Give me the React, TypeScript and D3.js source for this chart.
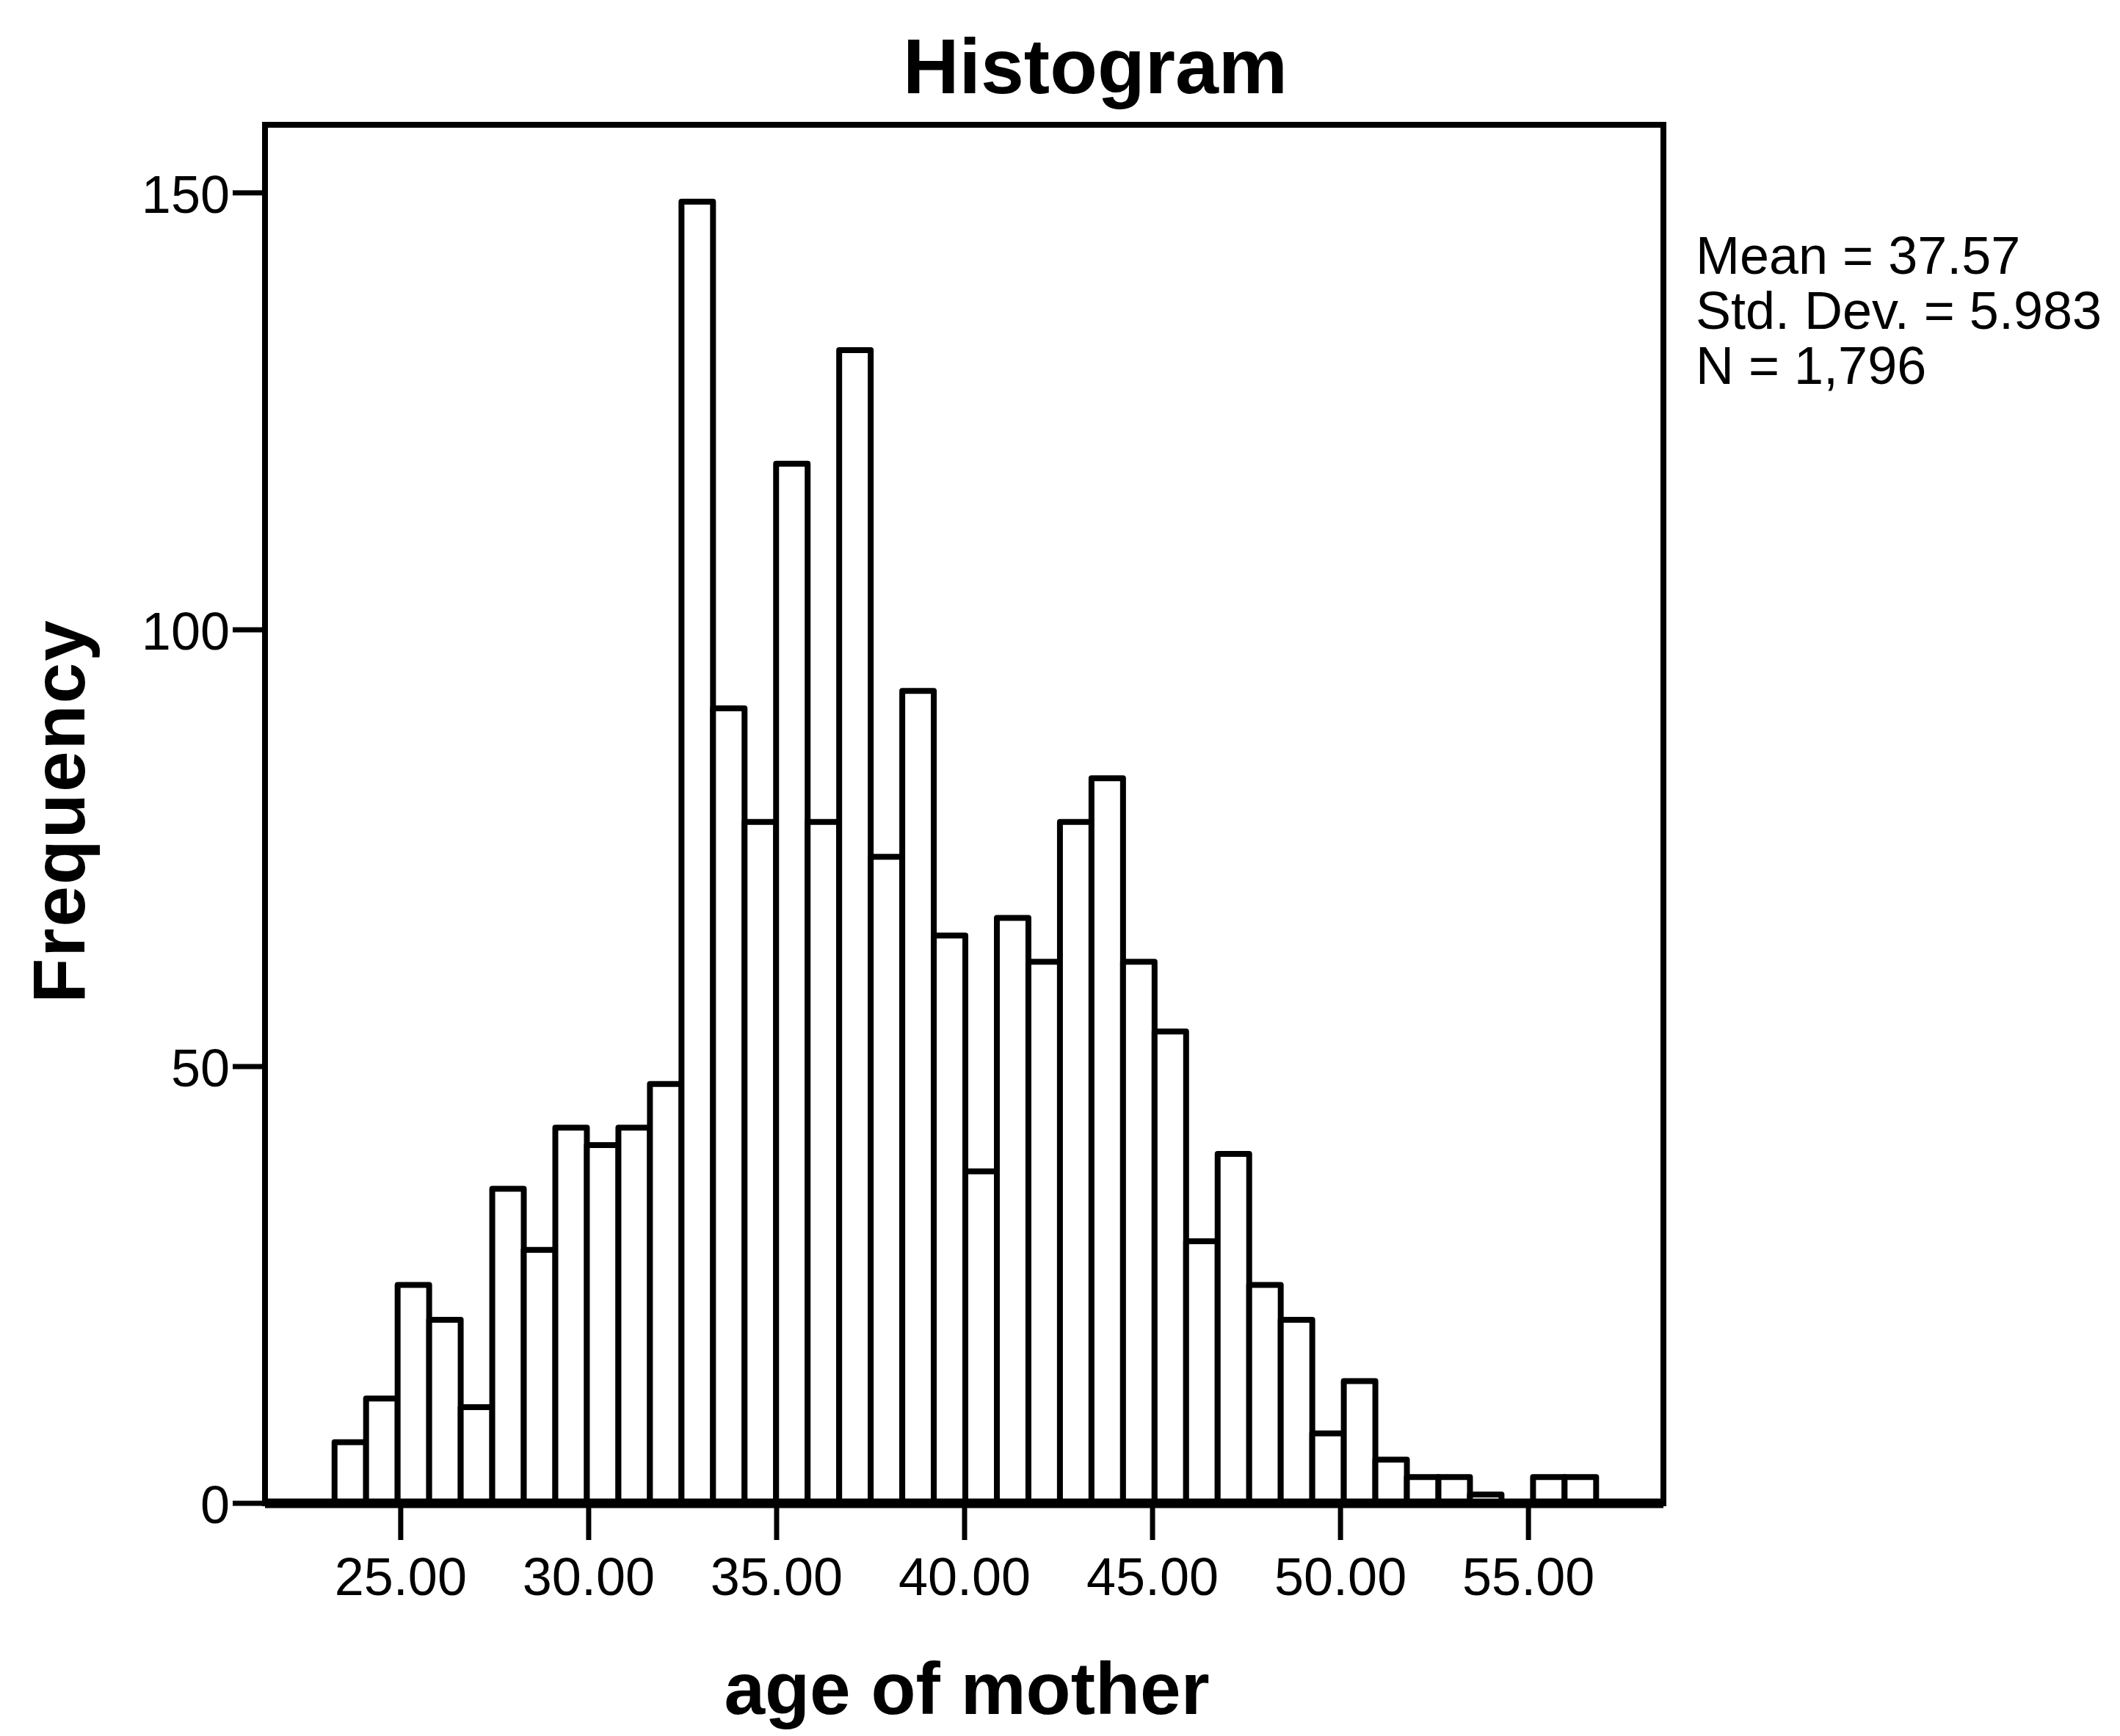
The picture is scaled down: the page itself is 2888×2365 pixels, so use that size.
import * as d3 from 'd3'

// frequency per bin, left to right (40 bins)
const counts = [
  7, 12, 25, 21, 11, 36, 29, 43, 41, 43,
  48, 149, 91, 78, 119, 78, 132, 74, 93, 65,
  38, 67, 62, 78, 83, 62, 54, 30, 40, 25,
  21, 8, 14, 5, 3, 3, 1, 0, 3, 3
]
const binStart = 23.24
const binWidth = 0.839

const xTicks = [25, 30, 35, 40, 45, 50, 55]
const yTicks = [0, 50, 100, 150]
const statLines = ['Mean = 37.57', 'Std. Dev. = 5.983', 'N = 1,796']

const title = 'Histogram'
const xLabel = 'age of mother'
const yLabel = 'Frequency'

const W = 2888
const H = 2365
const plot = { left: 361, right: 2266, top: 170, bottom: 2048 }
const font = '"Liberation Sans", Arial, sans-serif'

export default function App() {
  const x = d3.scaleLinear().domain([21.39, 58.59]).range([plot.left, plot.right])
  const y = d3.scaleLinear().domain([0, 157.8]).range([plot.bottom, plot.top])

  const bins = counts.map((c, i) => ({
    x0: binStart + i * binWidth,
    x1: binStart + (i + 1) * binWidth,
    count: c
  }))

  return (
    <svg
      width={W}
      height={H}
      style={{ position: 'absolute', left: 0, top: 0, background: '#fff' }}
      fontFamily={font}
    >
      <rect x={0} y={0} width={W} height={H} fill="#fff" />

      <text x={1492} y={127} textAnchor="middle" fontSize={106} fontWeight="bold">
        {title}
      </text>

      {/* plot frame */}
      <rect
        x={plot.left}
        y={plot.top}
        width={plot.right - plot.left}
        height={plot.bottom - plot.top}
        fill="none"
        stroke="#000"
        strokeWidth={8}
      />

      {/* bars */}
      {bins
        .filter((b) => b.count > 0)
        .map((b, i) => (
          <rect
            key={i}
            x={x(b.x0)}
            y={y(b.count)}
            width={x(b.x1) - x(b.x0)}
            height={y(0) - y(b.count)}
            fill="#fff"
            stroke="#000"
            strokeWidth={8}
            strokeLinejoin="round"
          />
        ))}

      {/* baseline */}
      <line x1={plot.left} x2={plot.right} y1={y(0)} y2={y(0)} stroke="#000" strokeWidth={13} />

      {/* y axis */}
      {yTicks.map((t) => (
        <g key={t}>
          <line x1={plot.left - 44} x2={plot.left} y1={y(t)} y2={y(t)} stroke="#000" strokeWidth={7} />
          <text x={313} y={y(t) + 8} textAnchor="end" dominantBaseline="middle" fontSize={72}>
            {t}
          </text>
        </g>
      ))}

      {/* x axis */}
      {xTicks.map((t) => (
        <g key={t}>
          <line x1={x(t)} x2={x(t)} y1={y(0)} y2={y(0) + 50} stroke="#000" strokeWidth={7} />
          <text x={x(t)} y={2173} textAnchor="middle" fontSize={72}>
            {t.toFixed(2)}
          </text>
        </g>
      ))}

      <text x={1317} y={2335} textAnchor="middle" fontSize={100} fontWeight="bold">
        {xLabel}
      </text>

      <text
        transform="translate(115,1105) rotate(-90)"
        textAnchor="middle"
        fontSize={100}
        fontWeight="bold"
        letterSpacing={2}
      >
        {yLabel}
      </text>

      {statLines.map((s, i) => (
        <text key={s} x={2310} y={373 + i * 75} fontSize={72}>
          {s}
        </text>
      ))}
    </svg>
  )
}
